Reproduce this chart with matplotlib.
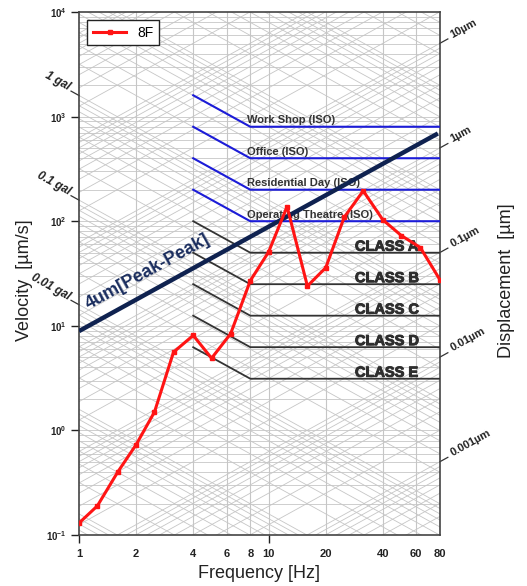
import numpy as np
import matplotlib
matplotlib.use("Agg")
import matplotlib.pyplot as plt
import matplotlib.patheffects as pe
from matplotlib.ticker import FixedLocator, FuncFormatter, NullLocator

plt.rcParams['font.family'] = ['Liberation Sans', 'DejaVu Sans']
plt.rcParams['mathtext.fontset'] = 'custom'
plt.rcParams['mathtext.rm'] = 'Liberation Sans'
plt.rcParams['mathtext.bf'] = 'Liberation Sans:bold'

# 1/3 octave band measurement, 8th floor
freq = [1, 1.25, 1.6, 2, 2.5, 3.15, 4, 5, 6.3, 8, 10, 12.5, 16, 20, 25, 31.5, 40, 50, 63, 80]
vel_8f = [0.13, 0.19, 0.40, 0.73, 1.5, 5.6, 8.1, 4.9, 8.4, 27, 51, 138, 24, 36, 109, 195, 103, 73, 56, 27.5]

# criteria curves (um/s flat level above 8 Hz)
iso_names = ["Work Shop (ISO)", "Office (ISO)", "Residential Day (ISO)", "Operating Theatre (ISO)"]
iso_levels = [800, 400, 200, 100]
vc_names = ["CLASS A", "CLASS B", "CLASS C", "CLASS D", "CLASS E"]
vc_levels = [50, 25, 12.5, 6.25, 3.12]
curve_freq = [4, 8, 80]

# 4um peak-peak line
peak_freq = [1, 78]
peak_vel = [8.9, 690]

gal_labels = ["1 gal", "0.1 gal", "0.01 gal"]
gal_values = [1e4, 1e3, 1e2]          # um/s^2
disp_labels = ["10µm", "1µm", "0.1µm", "0.01µm", "0.001µm"]
disp_values = [10, 1, 0.1, 0.01, 0.001]  # um

x_major = [1, 10]
x_minor = [2, 4, 6, 8, 20, 40, 60, 80]
x_grid = [2, 4, 6, 8, 10, 20, 40, 60]

fig = plt.figure(figsize=(5.27, 5.86), dpi=100)
ax = fig.add_axes([0.1499, 0.0870, 0.685, 0.8925])
ax.set_xscale('log')
ax.set_yscale('log')
ax.set_xlim(1, 80)
ax.set_ylim(0.1, 1e4)

gc = '#c6c6c6'
fg = np.array([1.0, 80.0])
mult = np.arange(1, 10)
# tripartite background: displacement and acceleration diagonals
for k in range(-4, 4):
    for m in mult:
        ax.plot(fg, 2 * np.pi * fg * m * 10.0 ** k, color=gc, lw=0.6, zorder=1)
for k in range(-1, 7):
    for m in mult:
        ax.plot(fg, m * 10.0 ** k / (2 * np.pi * fg), color=gc, lw=0.6, zorder=1)
for k in range(-1, 4):
    for m in mult:
        ax.axhline(m * 10.0 ** k, color=gc, lw=0.6, zorder=1)
for x in x_grid:
    ax.axvline(x, color=gc, lw=0.8, zorder=1)

# ISO curves
for name, lv in zip(iso_names, iso_levels):
    ax.plot(curve_freq, [2 * lv, lv, lv], color='#1c1cd8', lw=1.5, zorder=3)
    ax.text(7.7, lv * 1.08, name, fontsize=8, fontweight='bold', color='#333333',
            ha='left', va='baseline', zorder=2)

# VC curves
heavy = [pe.withStroke(linewidth=0.7, foreground='#2e2e2e')]
for name, lv in zip(vc_names, vc_levels):
    ax.plot(curve_freq, [2 * lv, lv, lv], color='#333333', lw=1.3, zorder=3)
    ax.text(28.5, lv * 1.045, name, fontsize=10.5, fontweight='bold', color='#2e2e2e',
            ha='left', va='baseline', zorder=2, path_effects=heavy)

# angle of a slope-1 line on screen
fig.canvas.draw()
p0 = ax.transData.transform((1, 1))
p1 = ax.transData.transform((10, 10))
ang = np.degrees(np.arctan2(p1[1] - p0[1], p1[0] - p0[0]))

ax.plot(peak_freq, peak_vel, color='#0f2250', lw=3.2, zorder=4, solid_capstyle='butt')
ax.text(2.30, 33, "4um[Peak-Peak]", fontsize=13, fontweight='bold', color='#1a2d5e',
        rotation=ang, rotation_mode='anchor', ha='center', va='center', zorder=4)

ax.plot(freq, vel_8f, color='#ff1414', lw=2.2, marker='s', markersize=3.5, zorder=5, label='8F')

# acceleration marks on the left
for lab, a in zip(gal_labels, gal_values):
    ff = np.array([0.908, 1.0])
    ax.plot(ff, a / (2 * np.pi * ff), color='#333333', lw=0.9, clip_on=False)
    ax.text(0.89, a / (2 * np.pi * 0.89) * 1.05, lab, fontsize=8.5, fontweight='bold',
            style='italic', color='#222222', rotation=-ang, rotation_mode='anchor',
            ha='right', va='center')

# displacement marks on the right
for lab, d in zip(disp_labels, disp_values):
    ff = np.array([80.0, 88.0])
    ax.plot(ff, 2 * np.pi * ff * d, color='#333333', lw=0.9, clip_on=False)
    ax.text(91, 2 * np.pi * 91 * d * 1.05, lab, fontsize=8, fontweight='bold',
            color='#222222', rotation=ang, rotation_mode='anchor', ha='left', va='center')

fmt_x = FuncFormatter(lambda v, pos: f"{v:g}")
ax.xaxis.set_major_locator(FixedLocator(x_major))
ax.xaxis.set_minor_locator(FixedLocator(x_minor))
ax.xaxis.set_major_formatter(fmt_x)
ax.xaxis.set_minor_formatter(fmt_x)
ax.yaxis.set_minor_locator(NullLocator())
ax.yaxis.set_major_formatter(FuncFormatter(
    lambda v, pos: r"$\mathbf{10^{%d}}$" % int(round(np.log10(v)))))
ax.tick_params(axis='x', which='major', length=6, width=1, pad=4, labelsize=8, colors='#222222')
ax.tick_params(axis='x', which='minor', length=0, pad=10, labelsize=8, colors='#222222')
ax.tick_params(axis='y', which='major', length=6, width=1, pad=3, labelsize=7, colors='#222222')
for t in ax.get_xticklabels(which='both'):
    t.set_fontweight('bold')
ax.tick_params(top=False, right=False)

for s in ax.spines.values():
    s.set_color('#444444')
    s.set_linewidth(1.2)

ax.set_xlabel("Frequency [Hz]", fontsize=13, color='#222222')
ax.xaxis.set_label_coords(0.5, -0.058)
ax.set_ylabel("Velocity  [µm/s]", fontsize=13, color='#222222')
ax.yaxis.set_label_coords(-0.128, 0.488)
ax.text(1.185, 0.486, "Displacement  [µm]", transform=ax.transAxes, fontsize=13,
        color='#222222', rotation=90, ha='center', va='center')

leg = ax.legend(loc='upper left', fontsize=10, handlelength=2.4, borderaxespad=0.6,
                fancybox=False, framealpha=1, edgecolor='#222222')
leg.get_frame().set_linewidth(1)
leg.set_zorder(6)

fig.savefig('out.png', dpi=100)
